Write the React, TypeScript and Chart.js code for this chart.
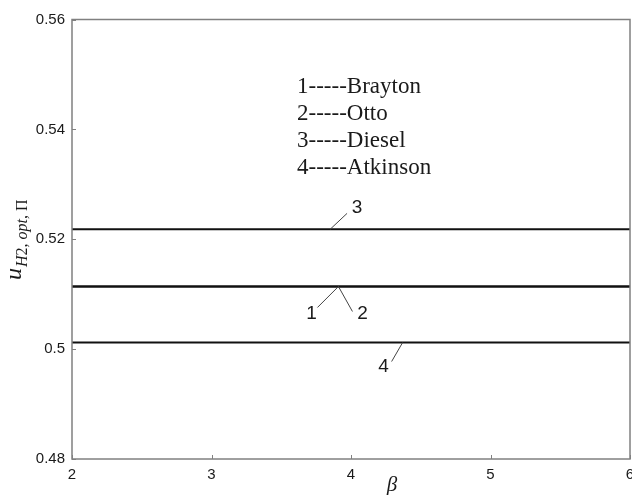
import React, { useEffect, useRef } from "react";
import { Chart, registerables } from "chart.js";

Chart.register(...registerables);

// Pressure ratio beta along the horizontal axis
const betaRange = [2, 6];
const betaTicks = [2, 3, 4, 5, 6];
const uTicks = [0.48, 0.5, 0.52, 0.54, 0.56];

// Optimal hydrogen utilization for each cycle (flat in beta)
const cycleNames = ["Brayton", "Otto", "Diesel", "Atkinson"];
const cycleValues = [0.5114, 0.5114, 0.5218, 0.5012];

// Leader-line callouts: [label, anchor beta, cycle index, dx, dy of line end, label dx, dy]
const callouts: [string, number, number, number, number, number, number][] = [
  ["3", 3.85, 2, 17, -16, 27, -22],
  ["1", 3.91, 0, -21, 21, -27, 27],
  ["2", 3.91, 1, 14, 25, 24, 27],
  ["4", 4.37, 3, -11, 19, -19, 24],
];

const serif = '"Liberation Serif", "Times New Roman", serif';
const sans = '"Liberation Sans", Arial, sans-serif';
const ink = "#1a1a1a";
const frame = "#808080";

const decorations = {
  id: "decorations",
  afterDraw(chart: any) {
    const { ctx, chartArea: a, scales } = chart;
    const xs = scales.x;
    const ys = scales.y;
    ctx.save();

    // axes box
    ctx.strokeStyle = frame;
    ctx.lineWidth = 1.5;
    ctx.strokeRect(a.left, a.top, a.right - a.left, a.bottom - a.top);

    // inward tick marks
    ctx.lineWidth = 1;
    ctx.beginPath();
    betaTicks.forEach((t) => {
      const px = Math.round(xs.getPixelForValue(t)) + 0.5;
      ctx.moveTo(px, a.bottom);
      ctx.lineTo(px, a.bottom - 4);
    });
    uTicks.forEach((t) => {
      const py = Math.round(ys.getPixelForValue(t)) + 0.5;
      ctx.moveTo(a.left, py);
      ctx.lineTo(a.left + 4, py);
    });
    ctx.stroke();

    // callouts
    ctx.strokeStyle = "#444";
    ctx.lineWidth = 1;
    ctx.fillStyle = ink;
    ctx.font = `19px ${sans}`;
    ctx.textAlign = "center";
    ctx.textBaseline = "middle";
    callouts.forEach(([label, bx, idx, dx, dy, lx, ly]) => {
      const px = xs.getPixelForValue(bx);
      const py = ys.getPixelForValue(cycleValues[idx]);
      ctx.beginPath();
      ctx.moveTo(px, py);
      ctx.lineTo(px + dx, py + dy);
      ctx.stroke();
      ctx.fillText(label, px + lx, py + ly);
    });

    // cycle key
    ctx.font = `23px ${serif}`;
    ctx.textAlign = "left";
    cycleNames.forEach((name, i) => {
      ctx.fillText(`${i + 1}-----${name}`, 297, 87 + 27 * i);
    });

    // x axis title
    ctx.font = `italic 21px ${serif}`;
    ctx.textAlign = "center";
    ctx.fillText("\u03B2", 392, 485);

    // y axis title: u with subscript H2, opt, Π
    ctx.translate(21, 280);
    ctx.rotate(-Math.PI / 2);
    ctx.textAlign = "left";
    ctx.textBaseline = "alphabetic";
    ctx.font = `italic 24px ${serif}`;
    ctx.fillText("u", 0, 0);
    let off = ctx.measureText("u").width + 1;
    const subParts: [string, boolean][] = [
      ["H", true],
      ["2, ", false],
      ["opt", true],
      [", \u03A0", false],
    ];
    subParts.forEach(([s, it]) => {
      ctx.font = `${it ? "italic " : ""}16px ${serif}`;
      ctx.fillText(s, off, 6);
      off += ctx.measureText(s).width;
    });

    ctx.restore();
  },
};

export default function App() {
  const ref = useRef<HTMLCanvasElement | null>(null);

  useEffect(() => {
    if (!ref.current) return;
    const chart = new Chart(ref.current, {
      type: "line",
      data: {
        datasets: cycleNames.map((name, i) => ({
          label: name,
          data: betaRange.map((b) => ({ x: b, y: cycleValues[i] })),
          borderColor: "#111",
          borderWidth: 2,
          pointRadius: 0,
          fill: false,
        })),
      },
      options: {
        responsive: false,
        animation: false,
        events: [],
        layout: { padding: { top: 19.5, right: 2, left: 0, bottom: 0 } },
        plugins: {
          legend: { display: false },
          tooltip: { enabled: false },
          title: { display: false },
        },
        scales: {
          x: {
            type: "linear",
            min: betaRange[0],
            max: betaRange[1],
            afterFit: (s: any) => {
              s.height = 36;
              s.paddingLeft = 0;
              s.paddingRight = 0;
            },
            afterBuildTicks: (s: any) => {
              s.ticks = betaTicks.map((v) => ({ value: v }));
            },
            grid: { display: false, drawTicks: false },
            border: { display: false },
            ticks: {
              padding: 7,
              color: ink,
              font: { family: sans, size: 15 },
              callback: (v: any) => String(v),
            },
          },
          y: {
            type: "linear",
            min: uTicks[0],
            max: uTicks[uTicks.length - 1],
            afterFit: (s: any) => {
              s.width = 72;
              s.paddingTop = 0;
              s.paddingBottom = 0;
            },
            afterBuildTicks: (s: any) => {
              s.ticks = uTicks.map((v) => ({ value: v }));
            },
            grid: { display: false, drawTicks: false },
            border: { display: false },
            ticks: {
              padding: 7,
              color: ink,
              font: { family: sans, size: 15 },
              callback: (v: any) => String(Number(Number(v).toFixed(2))),
            },
          },
        },
      },
      plugins: [decorations],
    });
    return () => chart.destroy();
  }, []);

  return (
    <div
      style={{
        position: "fixed",
        left: 0,
        top: 0,
        width: 632,
        height: 495,
        background: "#fff",
      }}
    >
      <canvas ref={ref} width={632} height={495} />
    </div>
  );
}
